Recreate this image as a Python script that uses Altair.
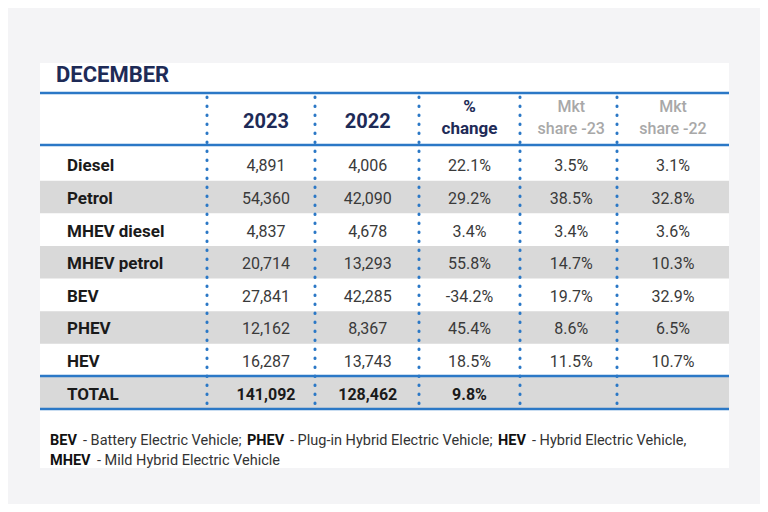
import altair as alt
import pandas as pd

# ---------------- data ----------------
title_text = "DECEMBER"
rows = ["Diesel", "Petrol", "MHEV diesel", "MHEV petrol", "BEV", "PHEV", "HEV", "TOTAL"]
reg_2023 = [4891, 54360, 4837, 20714, 27841, 12162, 16287, 141092]
reg_2022 = [4006, 42090, 4678, 13293, 42285, 8367, 13743, 128462]
pct_change = [22.1, 29.2, 3.4, 55.8, -34.2, 45.4, 18.5, 9.8]
share_23 = [3.5, 38.5, 3.4, 14.7, 19.7, 8.6, 11.5, None]
share_22 = [3.1, 32.8, 3.6, 10.3, 32.9, 6.5, 10.7, None]
columns = ["2023", "2022", "% change", "Mkt share -23", "Mkt share -22"]
header_labels = [["2023"], ["2022"], ["%", "change"], ["Mkt", "share -23"], ["Mkt", "share -22"]]
foot_line1 = [("BEV", True), ("- Battery Electric Vehicle;", False), ("PHEV", True),
              ("- Plug-in Hybrid Electric Vehicle;", False), ("HEV", True),
              ("- Hybrid Electric Vehicle,", False)]
foot_line2 = [("MHEV", True), ("- Mild Hybrid Electric Vehicle", False)]

# ---------------- tables ----------------
def fmt_int(v):
    return f"{v:,}"

def fmt_pct(v):
    return "" if v is None else f"{v:.1f}%"

recs = []
for i, r in enumerate(rows):
    vals = [fmt_int(reg_2023[i]), fmt_int(reg_2022[i]), fmt_pct(pct_change[i]),
            fmt_pct(share_23[i]), fmt_pct(share_22[i])]
    for c, t in zip(columns, vals):
        recs.append({"row": r, "col": c, "text": t, "total": r == "TOTAL"})
cells = pd.DataFrame(recs)
rowdf = pd.DataFrame({"row": rows, "stripe": [i % 2 == 1 for i in range(len(rows))],
                      "total": [r == "TOTAL" for r in rows]})
hdr = pd.DataFrame({"col": columns, "label": header_labels, "kind": ["year", "year", "pct", "mkt", "mkt"]})

FONT = "Roboto"
BLUE = "#2b78c6"
NAVY = "#1e2b57"
one = pd.DataFrame({"a": [0]})

yscale = alt.Scale(domain=rows, range=[140, 401], paddingInner=0, paddingOuter=0)
xscale = alt.Scale(domain=columns, range=[258, 665], padding=0)

card = alt.Chart(one).mark_rect(color="white").encode(
    x=alt.value(32), x2=alt.value(721), y=alt.value(55), y2=alt.value(460))

stripes = alt.Chart(rowdf).transform_filter("datum.stripe").mark_rect(color="#d9d9d9").encode(
    y=alt.Y("row:N", scale=yscale, axis=None), x=alt.value(32), x2=alt.value(721))

title = alt.Chart(one).mark_text(text=title_text, font=FONT, fontSize=22, fontWeight="bold",
                                 color=NAVY, align="left", baseline="middle").encode(
    x=alt.value(48), y=alt.value(67))

row_labels = alt.Chart(rowdf).mark_text(font=FONT, fontSize=17, fontWeight="bold", color="#1a1a1a",
                                        align="left", baseline="middle", dy=2).encode(
    y=alt.Y("row:N", scale=yscale, axis=None), x=alt.value(59), text="row:N")

values = alt.Chart(cells).transform_filter("!datum.total").mark_text(
    font=FONT, fontSize=16, baseline="middle", align="center", color="#3a3a3a", dy=2).encode(
    x=alt.X("col:N", scale=xscale, axis=None),
    y=alt.Y("row:N", scale=yscale, axis=None),
    text="text:N",
)
totals = alt.Chart(cells).transform_filter("datum.total").mark_text(
    font=FONT, fontSize=16, fontWeight="bold", baseline="middle", align="center", color="#1a1a1a", dy=2).encode(
    x=alt.X("col:N", scale=xscale, axis=None),
    y=alt.Y("row:N", scale=yscale, axis=None),
    text="text:N",
)

h_year = alt.Chart(hdr).transform_filter("datum.kind == 'year'").mark_text(
    font=FONT, fontSize=20, fontWeight="bold", color=NAVY, baseline="middle").encode(
    x=alt.X("col:N", scale=xscale, axis=None), y=alt.value(114), text="label")
h_pct = alt.Chart(hdr).transform_filter("datum.kind == 'pct'").mark_text(
    font=FONT, fontSize=17, fontWeight="bold", color=NAVY, baseline="middle", lineHeight=22).encode(
    x=alt.X("col:N", scale=xscale, axis=None), y=alt.value(99), text="label")
h_mkt = alt.Chart(hdr).transform_filter("datum.kind == 'mkt'").mark_text(
    font=FONT, fontSize=16, fontWeight=500, color="#a8a8a8", baseline="middle", lineHeight=22).encode(
    x=alt.X("col:N", scale=xscale, axis=None), y=alt.value(99), text="label")

layers = [card, stripes, title, row_labels, values, totals, h_year, h_pct, h_mkt]

for yy in [85, 137, 368, 401]:
    layers.append(alt.Chart(one).mark_rule(color=BLUE, strokeWidth=2.5).encode(
        x=alt.value(32), x2=alt.value(721), y=alt.value(yy)))

for xx in [199, 307, 411, 512, 609]:
    layers.append(alt.Chart(one).mark_rule(color=BLUE, strokeWidth=3, strokeCap="round",
                                           strokeDash=[0.5, 8.5]).encode(
        x=alt.value(xx), y=alt.value(89), y2=alt.value(401)))

foot_x1 = [42, 75, 239, 282, 490, 524]
foot_x2 = [42, 89]
for (t, b), xx in zip(foot_line1, foot_x1):
    layers.append(alt.Chart(one).mark_text(text=t, font=FONT, fontSize=14.5,
                                           fontWeight="bold" if b else "normal",
                                           color="#111" if b else "#333", align="left",
                                           baseline="middle").encode(x=alt.value(xx), y=alt.value(433)))
for (t, b), xx in zip(foot_line2, foot_x2):
    layers.append(alt.Chart(one).mark_text(text=t, font=FONT, fontSize=14.5,
                                           fontWeight="bold" if b else "normal",
                                           color="#111" if b else "#333", align="left",
                                           baseline="middle").encode(x=alt.value(xx), y=alt.value(453)))

chart = alt.layer(*layers).properties(
    width=752, height=496, background="#f4f4f6", padding=0,
    autosize=alt.AutoSizeParams(type="none"),
).configure_view(stroke=None)

chart.save("out.html", embed_options={"renderer": "svg", "actions": False})
